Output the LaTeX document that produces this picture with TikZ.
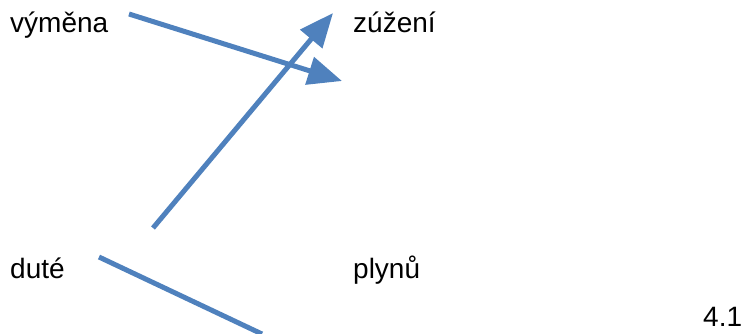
\documentclass[tikz,border=0pt]{standalone}
\usepackage{fontspec}
\setmainfont{Liberation Sans}
\usetikzlibrary{arrows.meta}
\definecolor{arrowblue}{RGB}{79,129,189}
\tikzset{
  lbl/.style={anchor=base west, inner sep=0pt, font=\fontsize{28}{33}\selectfont},
  conn/.style={draw=arrowblue, line width=5pt},
  arr/.style={conn, -{Triangle[length=34pt,width=28pt]}}
}
\begin{document}
\begin{tikzpicture}[x=1pt,y=-1pt]
\useasboundingbox (0,0) rectangle (742,333);
\node[lbl] (vymena) at (10,32) {výměna};
\node[lbl] (zuzeni) at (353,32) {zúžení};
\node[lbl] (dute) at (10,278) {duté};
\node[lbl] (plynu) at (353,278) {plynů};
\node[lbl] (num) at (703,326) {4.1};
\coordinate (a1s) at (129,14);
\coordinate (a1e) at (342,81);
\coordinate (a2s) at (153,228);
\coordinate (a2e) at (333,13);
\coordinate (l3s) at (99,257);
\coordinate (l3e) at (262,334);
\draw[arr] (a1s) -- (a1e);
\draw[arr] (a2s) -- (a2e);
\draw[conn] (l3s) -- (l3e);
\end{tikzpicture}
\end{document}
